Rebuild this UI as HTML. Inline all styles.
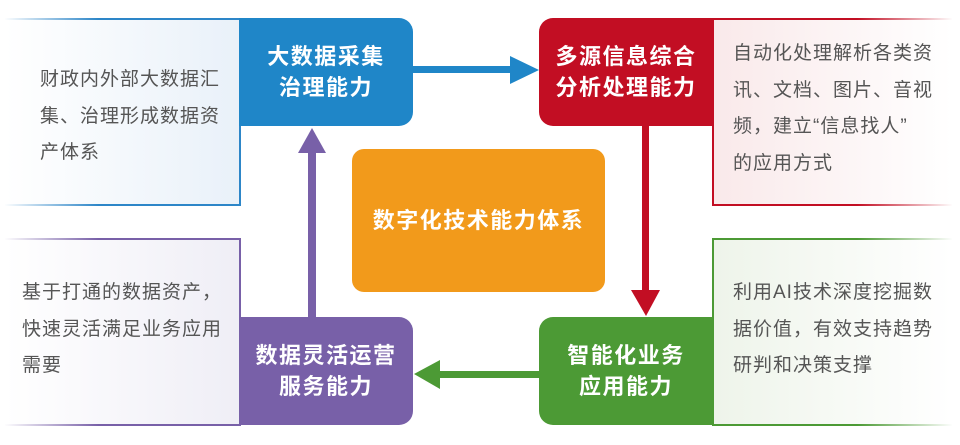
<!DOCTYPE html>
<html><head><meta charset="utf-8"><style>
body{margin:0;width:960px;height:445px;background:#fff;position:relative;overflow:hidden;font-family:"Liberation Sans","Noto Sans CJK SC",sans-serif}
div{position:absolute;box-sizing:border-box}
.box{color:#fff;font-weight:bold;font-size:22px;letter-spacing:1.5px;line-height:31px;text-align:center;display:flex;align-items:center;justify-content:center;white-space:nowrap}
.txt{color:#555;font-size:19px;letter-spacing:1px;line-height:36.5px;white-space:nowrap}
</style></head><body>
<div style="left:5px;top:18px;width:236px;height:188px;background:linear-gradient(90deg,#fff,#e9f1f9);border-top:2px solid;border-bottom:2px solid;border-right:2px solid #2d86c8;border-image:linear-gradient(90deg,rgba(45,134,200,0),#2d86c8 40%) 1"></div>
<div class="txt" style="left:40px;top:62px">财政内外部大数据汇<br>集、治理形成数据资<br>产体系</div>
<div style="left:712px;top:18px;width:240px;height:188px;background:linear-gradient(90deg,#f9e9ea,#fff);border-top:2px solid;border-bottom:2px solid;border-left:2px solid;border-image:linear-gradient(90deg,#c20e23 60%,rgba(194,14,35,0)) 1"></div>
<div class="txt" style="left:733px;top:36px">自动化处理解析各类资<br>讯、文档、图片、音视<br>频，建立“信息找人”<br>的应用方式</div>
<div style="left:5px;top:238px;width:236px;height:188px;background:linear-gradient(90deg,#fff,#efeef6);border-top:2px solid;border-bottom:2px solid;border-image:linear-gradient(90deg,rgba(120,96,168,0),#7860a8 40%) 1;border-right:2px solid #7860a8"></div>
<div class="txt" style="left:22px;top:275px">基于打通的数据资产，<br>快速灵活满足业务应用<br>需要</div>
<div style="left:712px;top:238px;width:240px;height:188px;background:linear-gradient(90deg,#eef4ea,#fff);border-top:2px solid;border-bottom:2px solid;border-left:2px solid;border-image:linear-gradient(90deg,#4c9a35 60%,rgba(76,154,53,0)) 1"></div>
<div class="txt" style="left:733px;top:275px">利用AI技术深度挖掘数<br>据价值，有效支持趋势<br>研判和决策支撑</div>
<div class="box" style="left:239px;top:18px;width:174px;height:108px;background:#1f86c8;border-radius:0 14px 14px 0">大数据采集<br>治理能力</div>
<div class="box" style="left:539px;top:18px;width:174px;height:108px;background:#c20e23;border-radius:14px 0 0 14px">多源信息综合<br>分析处理能力</div>
<div class="box" style="left:539px;top:317px;width:174px;height:108px;background:#4c9a35;border-radius:14px 0 0 14px">智能化业务<br>应用能力</div>
<div class="box" style="left:239px;top:317px;width:174px;height:108px;background:#7860a8;border-radius:0 14px 14px 0">数据灵活运营<br>服务能力</div>
<div class="box" style="left:352px;top:149px;width:253px;height:143px;background:#f29a1b;border-radius:12px">数字化技术能力体系</div>
<svg style="position:absolute;left:0;top:0" width="960" height="445">
<rect x="413" y="66" width="100" height="7" fill="#1f86c8"/><polygon points="510,56 539,70 510,84" fill="#1f86c8"/>
<rect x="642" y="126" width="7" height="166" fill="#c20e23"/><polygon points="631,290 660,290 646,316" fill="#c20e23"/>
<rect x="438" y="371" width="101" height="7" fill="#4c9a35"/><polygon points="440,360 440,389 414,374" fill="#4c9a35"/>
<rect x="308" y="150" width="8" height="167" fill="#7860a8"/><polygon points="298,153 326,153 312,128" fill="#7860a8"/>
</svg>
</body></html>
